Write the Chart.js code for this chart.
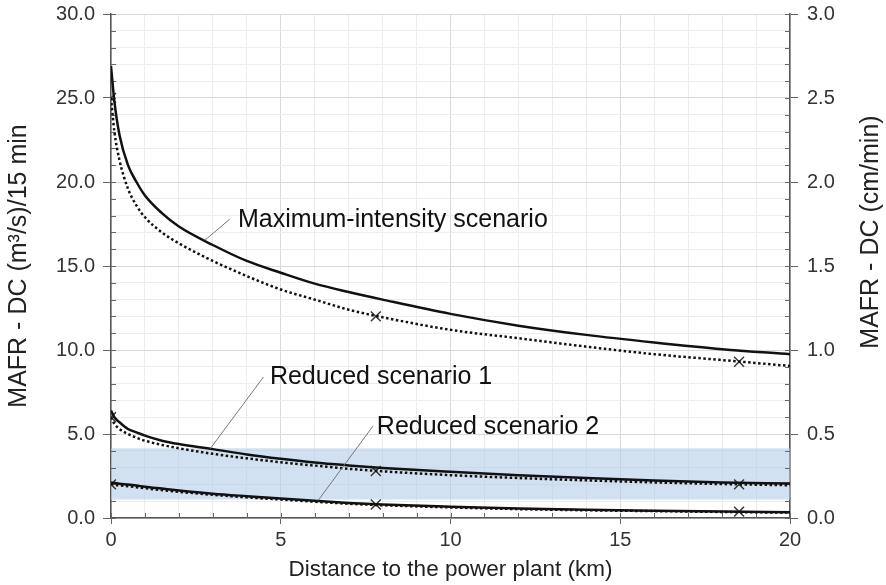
<!DOCTYPE html>
<html>
<head>
<meta charset="utf-8">
<script src="https://cdn.jsdelivr.net/npm/chart.js@4.4.1/dist/chart.umd.min.js"></script>
<style>
  html, body { margin: 0; padding: 0; background: #fff; }
  #wrap { width: 886px; height: 585px; }
</style>
</head>
<body>
<div id="wrap"><canvas id="myChart"></canvas></div>
<script>
// distance to the power plant (km)
const distances = [0, 0.1, 0.25, 0.5, 0.75, 1, 1.5, 2, 3, 4, 5, 6, 7, 8, 10, 12, 14, 16, 18, 20];

// MAFR - DC, (m3/s)/15 min
const maxSolid = [26.9, 24.8, 22.8, 21.0, 20.0, 19.2, 18.15, 17.35, 16.25, 15.3, 14.6, 13.95, 13.45, 13.0, 12.15, 11.45, 10.9, 10.45, 10.05, 9.75];
const maxDotted = [25.0, 23.0, 21.3, 19.6, 18.6, 17.9, 17.0, 16.35, 15.3, 14.4, 13.6, 13.0, 12.4, 11.95, 11.2, 10.7, 10.2, 9.75, 9.4, 9.05];
const red1Solid = [6.4, 6.0, 5.7, 5.3, 5.1, 4.9, 4.6, 4.4, 4.1, 3.78, 3.52, 3.3, 3.13, 2.98, 2.75, 2.55, 2.38, 2.23, 2.12, 2.05];
const red1Dotted = [6.0, 5.6, 5.3, 5.0, 4.78, 4.6, 4.35, 4.15, 3.82, 3.55, 3.32, 3.12, 2.93, 2.78, 2.55, 2.38, 2.24, 2.12, 2.02, 1.95];
const red2Solid = [2.12, 2.08, 2.04, 1.99, 1.93, 1.86, 1.75, 1.64, 1.45, 1.3, 1.16, 1.03, 0.9, 0.8, 0.67, 0.57, 0.49, 0.43, 0.38, 0.34];
const red2Dotted = [2.02, 1.98, 1.94, 1.89, 1.83, 1.77, 1.66, 1.56, 1.38, 1.23, 1.1, 0.97, 0.85, 0.76, 0.63, 0.53, 0.46, 0.41, 0.36, 0.32];

// x marks
const markDist = [0, 7.8, 18.5];
const markMax = [25.0, 12.0, 9.3];
const markRed1 = [6.0, 2.8, 2.0];
const markRed2 = [2.0, 0.8, 0.38];

// shaded band (left axis units)
const band = [1.1, 4.15];

const FONT = '"Liberation Sans", Arial, sans-serif';

function pts(xs, ys) {
    return xs.map((x, i) => ({x: x, y: ys[i]}));
}

function curve(ys, dotted) {
    return {
        data: pts(distances, ys),
        borderColor: '#111',
        borderWidth: 2.5,
        borderDash: dotted ? [2.5, 2.5] : [],
        pointRadius: 0,
        cubicInterpolationMode: 'monotone',
        fill: false
    };
}

function marks(ys) {
    return {
        data: pts(markDist, ys),
        showLine: false,
        pointStyle: 'crossRot',
        pointRadius: 7,
        pointBorderWidth: 1.4,
        pointBorderColor: '#333',
        borderColor: '#333'
    };
}

const notes = [
    {text: 'Maximum-intensity scenario', x: 3.74, y: 17.3, from: [2.77, 16.54], to: [3.5, 17.79]},
    {text: 'Reduced scenario 1', x: 4.68, y: 7.96, from: [2.92, 4.12], to: [4.49, 8.39]},
    {text: 'Reduced scenario 2', x: 7.83, y: 5.02, from: [6.1, 1.04], to: [7.72, 5.48]}
];

const extras = {
    id: 'extras',
    beforeDatasetsDraw(chart) {
        const {ctx, chartArea, scales} = chart;
        ctx.save();
        ctx.fillStyle = 'rgba(178,205,232,0.6)';
        const top = scales.y.getPixelForValue(band[1]);
        const bot = scales.y.getPixelForValue(band[0]);
        ctx.fillRect(chartArea.left, top, chartArea.right - chartArea.left, bot - top);

        // short inward ticks
        ctx.strokeStyle = '#666';
        ctx.lineWidth = 1;
        scales.x.ticks.forEach(t => {
            const px = Math.round(scales.x.getPixelForValue(t.value)) + 0.5;
            ctx.beginPath();
            ctx.moveTo(px, chartArea.bottom);
            ctx.lineTo(px, chartArea.bottom - 5);
            ctx.stroke();
        });
        scales.y.ticks.forEach(t => {
            const py = Math.round(scales.y.getPixelForValue(t.value)) + 0.5;
            ctx.beginPath();
            ctx.moveTo(chartArea.left, py);
            ctx.lineTo(chartArea.left + 5, py);
            ctx.stroke();
        });
        scales.y2.ticks.forEach(t => {
            const py = Math.round(scales.y2.getPixelForValue(t.value)) + 0.5;
            ctx.beginPath();
            ctx.moveTo(chartArea.right, py);
            ctx.lineTo(chartArea.right - 5, py);
            ctx.stroke();
        });
        ctx.restore();
    },
    afterDraw(chart) {
        const {ctx, chartArea, scales} = chart;
        ctx.save();
        notes.forEach(n => {
            ctx.strokeStyle = '#777';
            ctx.lineWidth = 1;
            ctx.beginPath();
            ctx.moveTo(scales.x.getPixelForValue(n.from[0]), scales.y.getPixelForValue(n.from[1]));
            ctx.lineTo(scales.x.getPixelForValue(n.to[0]), scales.y.getPixelForValue(n.to[1]));
            ctx.stroke();
            ctx.fillStyle = '#111';
            ctx.font = '25px ' + FONT;
            ctx.textAlign = 'left';
            ctx.textBaseline = 'alphabetic';
            ctx.fillText(n.text, scales.x.getPixelForValue(n.x), scales.y.getPixelForValue(n.y));
        });
        // right axis title
        ctx.translate(chartArea.right + 81, 232);
        ctx.rotate(-Math.PI / 2);
        ctx.fillStyle = '#222';
        ctx.font = '25px ' + FONT;
        ctx.textAlign = 'center';
        ctx.textBaseline = 'middle';
        ctx.fillText('MAFR - DC (cm/min)', 0, 0);
        ctx.restore();
    }
};

const tickFont = {family: FONT, size: 20};

var myChart = new Chart(document.getElementById('myChart'), {
    type: 'line',
    data: {
        datasets: [
            curve(maxSolid, false),
            curve(maxDotted, true),
            curve(red1Solid, false),
            curve(red1Dotted, true),
            curve(red2Solid, false),
            curve(red2Dotted, true),
            marks(markMax),
            marks(markRed1),
            marks(markRed2)
        ]
    },
    options: {
        responsive: true,
        maintainAspectRatio: false,
        animation: false,
        layout: {padding: {top: 14, left: 0, right: 0, bottom: 0}},
        plugins: {legend: {display: false}, tooltip: {enabled: false}},
        scales: {
            x: {
                type: 'linear',
                min: 0,
                max: 20,
                afterFit(scale) { scale.height = 67; scale.paddingLeft = 0; scale.paddingRight = 0; },
                ticks: {
                    stepSize: 1,
                    autoSkip: false,
                    maxRotation: 0,
                    padding: 4,
                    color: '#333',
                    font: tickFont,
                    callback: v => (v % 5 === 0 ? v : '')
                },
                grid: {
                    color: c => (c.tick && c.tick.value % 5 === 0 ? '#dadada' : '#ececec'),
                    tickLength: 6,
                    tickColor: c => (c.tick && c.tick.value % 5 === 0 ? '#666' : 'transparent')
                },
                border: {color: '#555', width: 1.5},
                title: {
                    display: true,
                    text: 'Distance to the power plant (km)',
                    color: '#222',
                    font: {family: FONT, size: 22.5},
                    padding: {top: 0, bottom: 2}
                }
            },
            y: {
                position: 'left',
                min: 0,
                max: 30,
                afterFit(scale) { scale.width = 111; scale.paddingTop = 0; scale.paddingBottom = 0; },
                ticks: {
                    stepSize: 1,
                    autoSkip: false,
                    padding: 8,
                    color: '#333',
                    font: tickFont,
                    callback: v => (v % 5 === 0 ? v.toFixed(1) : '')
                },
                grid: {
                    color: c => (c.tick && c.tick.value % 5 === 0 ? '#dadada' : '#ececec'),
                    tickLength: 8,
                    tickColor: c => (c.tick && c.tick.value % 5 === 0 ? '#666' : 'transparent')
                },
                border: {color: '#555', width: 1.5},
                title: {
                    display: true,
                    text: 'MAFR - DC (m³/s)/15 min',
                    color: '#222',
                    font: {family: FONT, size: 25},
                    padding: {top: 4, bottom: 4}
                }
            },
            y2: {
                position: 'right',
                min: 0,
                max: 3,
                afterFit(scale) { scale.width = 96; scale.paddingTop = 0; scale.paddingBottom = 0; },
                ticks: {
                    stepSize: 0.1,
                    autoSkip: false,
                    padding: 9,
                    color: '#333',
                    font: tickFont,
                    callback: v => (Math.abs(v * 2 - Math.round(v * 2)) < 1e-6 ? v.toFixed(1) : '')
                },
                grid: {
                    drawOnChartArea: false,
                    tickLength: 8,
                    tickColor: c => (c.tick && Math.abs(c.tick.value * 2 - Math.round(c.tick.value * 2)) < 1e-6 ? '#666' : 'transparent')
                },
                border: {color: '#555', width: 1.5}
            }
        }
    },
    plugins: [extras]
});
</script>
</body>
</html>
